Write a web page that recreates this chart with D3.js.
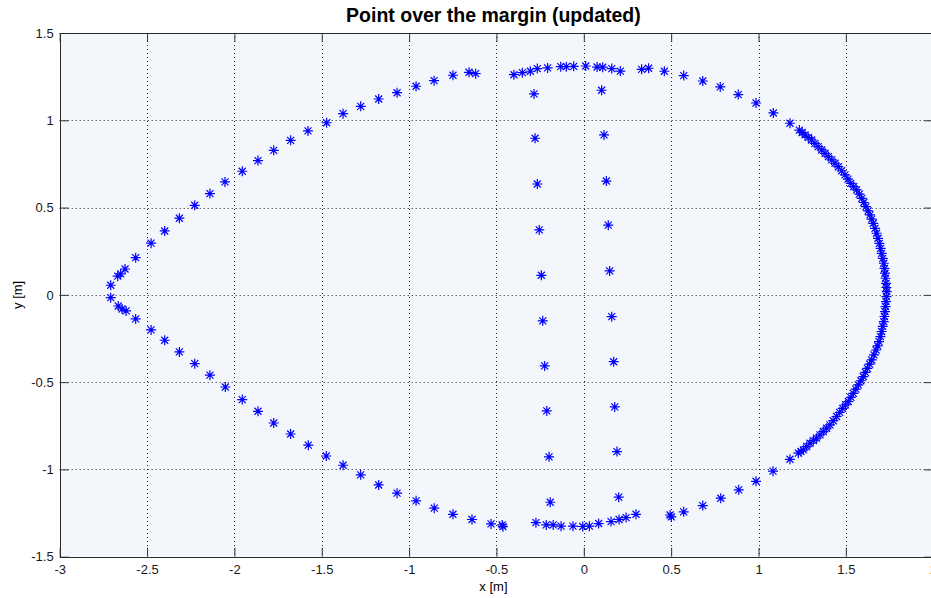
<!DOCTYPE html>
<html>
<head>
<meta charset="utf-8">
<script src="https://cdn.jsdelivr.net/npm/d3@7"></script>
<style>
  body { margin: 0; background: #fff; }
  svg { display: block; font-family: "Liberation Sans", Arial, sans-serif; }
</style>
</head>
<body>
<svg id="chart" width="931" height="598"></svg>
<script>
// outer contour, upper half (left tip -> right)
var upperX = [-2.708, -2.668, -2.651, -2.626, -2.565, -2.477, -2.399, -2.315, -2.227, -2.140,
    -2.054, -1.955, -1.865, -1.775, -1.678, -1.579, -1.472, -1.378, -1.277, -1.174,
    -1.069, -0.960, -0.857, -0.749, -0.657, -0.619, -0.400, -0.352, -0.306, -0.266,
    -0.207, -0.132, -0.100, -0.058, 0.011, 0.076, 0.108, 0.160, 0.209, 0.331,
    0.371, 0.461, 0.572, 0.681, 0.781, 0.884, 0.986, 1.085, 1.180];
var upperY = [0.055, 0.107, 0.120, 0.148, 0.213, 0.296, 0.366, 0.439, 0.513, 0.580,
    0.647, 0.708, 0.769, 0.828, 0.885, 0.939, 0.986, 1.038, 1.080, 1.122,
    1.158, 1.195, 1.227, 1.258, 1.275, 1.267, 1.261, 1.273, 1.281, 1.296,
    1.300, 1.307, 1.307, 1.309, 1.311, 1.305, 1.304, 1.296, 1.282, 1.292,
    1.298, 1.281, 1.256, 1.225, 1.191, 1.147, 1.099, 1.042, 0.983];

// outer contour, lower half (left tip -> right)
var lowerX = [-2.708, -2.665, -2.643, -2.620, -2.565, -2.477, -2.399, -2.315, -2.227, -2.140,
    -2.052, -1.955, -1.865, -1.775, -1.678, -1.577, -1.474, -1.378, -1.277, -1.174,
    -1.069, -0.960, -0.856, -0.749, -0.640, -0.531, -0.467, -0.463, -0.274, -0.215,
    -0.175, -0.130, -0.062, -0.006, 0.032, 0.085, 0.156, 0.202, 0.242, 0.299,
    0.494, 0.501, 0.572, 0.681, 0.784, 0.887, 0.986, 1.083, 1.180];
var lowerY = [-0.016, -0.064, -0.081, -0.092, -0.138, -0.201, -0.260, -0.327, -0.394, -0.460,
    -0.528, -0.600, -0.667, -0.734, -0.797, -0.861, -0.923, -0.976, -1.031, -1.089,
    -1.136, -1.180, -1.222, -1.257, -1.287, -1.312, -1.318, -1.328, -1.305, -1.318,
    -1.318, -1.325, -1.325, -1.327, -1.325, -1.310, -1.299, -1.287, -1.276, -1.257,
    -1.261, -1.272, -1.243, -1.207, -1.165, -1.117, -1.068, -1.010, -0.942];

// dense front arc on the right
var arcX = [1.234, 1.250, 1.266, 1.285, 1.304, 1.323, 1.342, 1.362, 1.381, 1.400,
    1.419, 1.438, 1.457, 1.476, 1.495, 1.512, 1.528, 1.545, 1.562, 1.577,
    1.591, 1.603, 1.615, 1.627, 1.638, 1.648, 1.657, 1.667, 1.676, 1.684,
    1.692, 1.699, 1.705, 1.711, 1.717, 1.721, 1.724, 1.727, 1.730, 1.732,
    1.734, 1.732, 1.730, 1.727, 1.724, 1.721, 1.717, 1.711, 1.705, 1.698,
    1.690, 1.682, 1.673, 1.661, 1.648, 1.636, 1.623, 1.612, 1.600, 1.586,
    1.571, 1.557, 1.543, 1.529, 1.514, 1.498, 1.482, 1.465, 1.447, 1.428,
    1.409, 1.390, 1.371, 1.352, 1.333, 1.314, 1.295, 1.276, 1.257, 1.243, 1.228];
var arcY = [0.944, 0.930, 0.916, 0.902, 0.887, 0.868, 0.849, 0.830, 0.811, 0.792,
    0.773, 0.754, 0.734, 0.711, 0.687, 0.663, 0.639, 0.620, 0.601, 0.577,
    0.553, 0.529, 0.505, 0.481, 0.458, 0.434, 0.410, 0.381, 0.353, 0.324,
    0.295, 0.266, 0.238, 0.209, 0.181, 0.152, 0.124, 0.095, 0.066, 0.042,
    0.019, -0.010, -0.039, -0.067, -0.096, -0.124, -0.153, -0.181, -0.210, -0.239,
    -0.268, -0.292, -0.316, -0.344, -0.373, -0.397, -0.421, -0.444, -0.468, -0.492,
    -0.516, -0.540, -0.564, -0.587, -0.611, -0.630, -0.650, -0.673, -0.697, -0.721,
    -0.745, -0.764, -0.783, -0.802, -0.821, -0.835, -0.850, -0.869, -0.888, -0.897, -0.907];

// the two inner vertical rows
var innerLeftX = [-0.285, -0.279, -0.266, -0.255, -0.243, -0.235, -0.224, -0.212, -0.199, -0.192];
var innerLeftY = [1.151, 0.897, 0.635, 0.372, 0.112, -0.149, -0.407, -0.665, -0.928, -1.188];
var innerRightX = [0.102, 0.116, 0.129, 0.140, 0.148, 0.160, 0.171, 0.177, 0.190, 0.200];
var innerRightY = [1.172, 0.916, 0.652, 0.399, 0.137, -0.125, -0.383, -0.642, -0.898, -1.159];

var xTicks = [-3, -2.5, -2, -1.5, -1, -0.5, 0, 0.5, 1, 1.5, 2];
var yTicks = [-1.5, -1, -0.5, 0, 0.5, 1, 1.5];

var pLeft = 59.7, pRight = 933.2, pTop = 33, pBottom = 556.7;
var pW = pRight - pLeft, pH = pBottom - pTop;

var svg = d3.select("#chart");

var x = d3.scaleLinear().domain([-3, 2]).range([pLeft, pRight]);
var y = d3.scaleLinear().domain([-1.5, 1.5]).range([pBottom, pTop]);

// matlab-style labels, plain hyphen for minus
var fmt = function(d) { return String(d); };

function pairs(xs, ys) {
    return xs.map(function(v, i) { return [v, ys[i]]; });
}
var points = [].concat(pairs(upperX, upperY), pairs(lowerX, lowerY),
    pairs(arcX, arcY), pairs(innerLeftX, innerLeftY), pairs(innerRightX, innerRightY));

// axes background
svg.append("rect")
    .attr("x", pLeft).attr("y", pTop)
    .attr("width", pW).attr("height", pH)
    .attr("fill", "#f3f7fc");

// dotted grid
var grid = svg.append("g").attr("class", "grid")
    .attr("stroke", "#222").attr("stroke-width", 1)
    .attr("stroke-dasharray", "1,3");
grid.selectAll("line.gx").data(xTicks.slice(1, -1)).enter().append("line")
    .attr("x1", function(d) { return Math.round(x(d)) + 0.5; })
    .attr("x2", function(d) { return Math.round(x(d)) + 0.5; })
    .attr("y1", pTop).attr("y2", pBottom);
grid.selectAll("line.gy").data(yTicks.slice(1, -1)).enter().append("line")
    .attr("y1", function(d) { return Math.round(y(d)) + 0.5; })
    .attr("y2", function(d) { return Math.round(y(d)) + 0.5; })
    .attr("x1", pLeft).attr("x2", pRight);

// inward ticks on all four sides, labels left and bottom
function styleAxis(g) {
    g.select(".domain").remove();
    g.selectAll(".tick line").attr("stroke", "#333");
    g.selectAll(".tick text").attr("fill", "#1a1a1a")
        .style("font-size", "13px");
}

svg.append("g")
    .attr("transform", "translate(0," + pBottom + ")")
    .call(d3.axisBottom(x).tickValues(xTicks).tickSizeInner(-9).tickSizeOuter(0)
        .tickPadding(8).tickFormat(fmt))
    .call(styleAxis);
svg.append("g")
    .attr("transform", "translate(0," + pTop + ")")
    .call(d3.axisTop(x).tickValues(xTicks).tickSizeInner(-9).tickSizeOuter(0)
        .tickFormat(""))
    .call(styleAxis);
svg.append("g")
    .attr("transform", "translate(" + pLeft + ",0)")
    .call(d3.axisLeft(y).tickValues(yTicks).tickSizeInner(-9).tickSizeOuter(0)
        .tickPadding(6).tickFormat(fmt))
    .call(styleAxis);
svg.append("g")
    .attr("transform", "translate(" + pRight + ",0)")
    .call(d3.axisRight(y).tickValues(yTicks).tickSizeInner(-9).tickSizeOuter(0)
        .tickFormat(""))
    .call(styleAxis);

// box
svg.append("rect")
    .attr("x", Math.round(pLeft) + 0.5).attr("y", Math.round(pTop) + 0.5)
    .attr("width", pW).attr("height", Math.round(pH))
    .attr("fill", "none").attr("stroke", "#2a2a2a").attr("stroke-width", 1);

// star markers
var star = "M-5,0H5M0,-5V5M-3.5,-3.5L3.5,3.5M-3.5,3.5L3.5,-3.5";
svg.append("g").selectAll("path").data(points).enter().append("path")
    .attr("d", star)
    .attr("transform", function(d) {
        return "translate(" + x(d[0]) + "," + y(d[1]) + ")";
    })
    .attr("fill", "none").attr("stroke", "#0000ff").attr("stroke-width", 1.2);

// title and labels
svg.append("text")
    .attr("x", (pLeft + pRight) / 2 - 3).attr("y", 22)
    .attr("text-anchor", "middle")
    .style("font-size", "19.5px").style("font-weight", "bold")
    .text("Point over the margin (updated)");
svg.append("text")
    .attr("x", (pLeft + pRight) / 2 - 3).attr("y", 591)
    .attr("text-anchor", "middle")
    .style("font-size", "13px")
    .text("x [m]");
svg.append("text")
    .attr("transform", "translate(22," + (pTop + pH / 2) + ") rotate(-90)")
    .attr("text-anchor", "middle")
    .style("font-size", "13px")
    .text("y [m]");
</script>
</body>
</html>
